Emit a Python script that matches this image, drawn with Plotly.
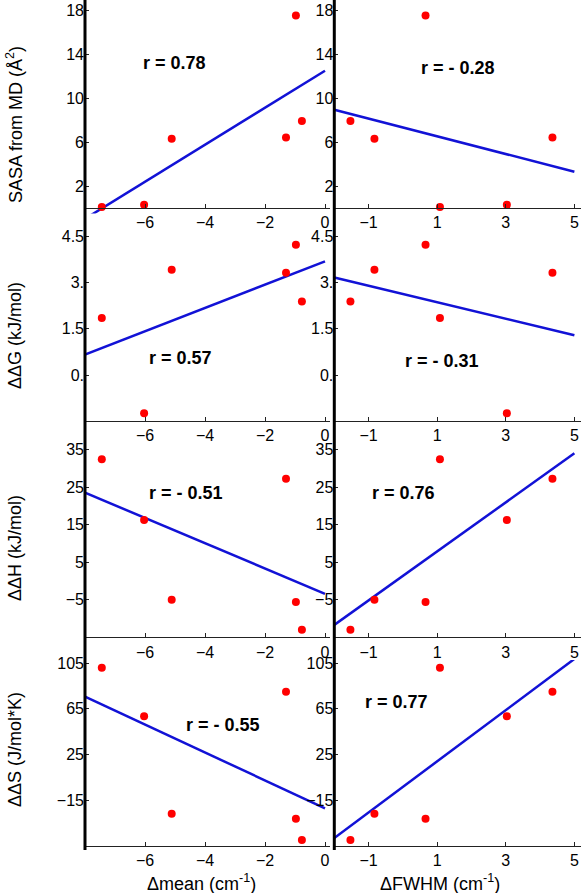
import numpy as np
import plotly.graph_objects as go

# ---------------- data ----------------
mean_shift = [-7.44, -6.03, -5.11, -1.30, -0.97, -0.77]   # Δmean (cm-1)
fwhm_shift = [1.08, 3.03, -0.83, 4.36, 0.66, -1.53]       # ΔFWHM (cm-1)
sasa = [0.1, 0.3, 6.3, 6.4, 17.5, 7.9]
ddG = [1.85, -1.24, 3.42, 3.32, 4.23, 2.39]
ddH = [32.5, 16.3, -5.0, 27.3, -5.6, -13.0]
ddS = [101.0, 58.5, -27.0, 80.0, -31.5, -50.0]

r_left = ["r = 0.78", "r = 0.57", "r = - 0.51", "r = - 0.55"]
r_right = ["r = - 0.28", "r = - 0.31", "r = 0.76", "r = 0.77"]
y_titles = ["SASA from MD (Å<sup>2</sup>)", "ΔΔG (kJ/mol)", "ΔΔH (kJ/mol)", "ΔΔS (J/mol*K)"]
x_titles = ["Δmean (cm<sup>-1</sup>)", "ΔFWHM (cm<sup>-1</sup>)"]
y_tickvals = [[2, 6, 10, 14, 18], [0, 1.5, 3, 4.5], [-5, 5, 15, 25, 35], [-15, 25, 65, 105]]
y_ticktext = [["2", "6", "10", "14", "18"], ["0.", "1.5", "3.", "4.5"],
              ["−5", "5", "15", "25", "35"], ["−15", "25", "65", "105"]]
x_tickvals = [[-6, -4, -2, 0], [-1, 1, 3, 5]]
x_ticktext = [["−6", "−4", "−2", "0"], ["−1", "1", "3", "5"]]
fit_span = [[-8, 0], [-2, 5]]

ys = [sasa, ddG, ddH, ddS]
xs = [mean_shift, fwhm_shift]

# ---------------- geometry (pixels) ----------------
W, H = 581, 893
col_px = [(85, 330), (334.3, 581)]
col_origin = [-8, -2]
col_scale = [30.0, 34.3]
row_band = [(0, 213.5), (216, 441), (441, 660), (660, 850)]
row_origin_px = [208, 421.2, 637.3, 845.6]
row_origin_val = [0, -1.5, -15, -55]
row_scale = [11.0, 30.8, 3.75, 1.14]
r_pos_left = [(174, 63), (180.5, 358), (186, 493), (223, 725)]
r_pos_right = [(458, 68), (441.7, 361), (403, 493), (396.7, 702)]
ytitle_pos = [(15, 125), (15, 336), (15, 548), (15, 750)]
xtitle_pos = [(201, 882), (440, 882)]

FONT = "Liberation Sans, Arial, sans-serif"
RED = "#ff0000"
BLUE = "#1212d6"


def px(xp):
    return xp / W


def py(yp):
    return 1 - yp / H


fig = go.Figure()
layout = {}
annotations = []
shapes = []

idx = 0
for r in range(4):
    for c in range(2):
        idx += 1
        sfx = "" if idx == 1 else str(idx)
        xa, ya = "x" + sfx, "y" + sfx
        xvals = np.array(xs[c], dtype=float)
        yvals = np.array(ys[r], dtype=float)
        slope, icpt = np.polyfit(xvals, yvals, 1)
        lx = np.array(fit_span[c], dtype=float)
        fig.add_trace(go.Scatter(x=lx, y=slope * lx + icpt, mode="lines",
                                 line=dict(color=BLUE, width=2.5),
                                 xaxis=xa, yaxis=ya, showlegend=False, hoverinfo="skip"))
        fig.add_trace(go.Scatter(x=xvals, y=yvals, mode="markers",
                                 marker=dict(color=RED, size=8, line=dict(width=0)),
                                 xaxis=xa, yaxis=ya, showlegend=False))

        x0p, x1p = col_px[c]
        xr = [col_origin[c], col_origin[c] + (x1p - x0p) / col_scale[c]]
        top, bot = row_band[r]
        yr = [row_origin_val[r] - (bot - row_origin_px[r]) / row_scale[r],
              row_origin_val[r] + (row_origin_px[r] - top) / row_scale[r]]

        layout["xaxis" + sfx] = dict(
            domain=[px(x0p), px(x1p)], range=xr, anchor="free",
            position=py(row_origin_px[r]),
            showline=True, linecolor="#222222", linewidth=1,
            ticks="inside", ticklen=4, tickcolor="#222222", tickwidth=1,
            tickvals=x_tickvals[c], ticktext=x_ticktext[c],
            tickfont=dict(family=FONT, size=16, color="black"),
            showgrid=False, zeroline=False, automargin=False, fixedrange=True)
        layout["yaxis" + sfx] = dict(
            domain=[py(bot), py(top)], range=yr, anchor=xa,
            showline=False, ticks="inside", ticklen=4, tickcolor="#222222", tickwidth=1,
            tickvals=y_tickvals[r], ticktext=y_ticktext[r],
            tickfont=dict(family=FONT, size=16, color="black"),
            showgrid=False, zeroline=False, automargin=False, fixedrange=True)

        rp = r_pos_left[r] if c == 0 else r_pos_right[r]
        rt = r_left[r] if c == 0 else r_right[r]
        annotations.append(dict(text="<b>" + rt + "</b>", x=px(rp[0]), y=py(rp[1]),
                                xref="paper", yref="paper", showarrow=False,
                                xanchor="center", yanchor="middle",
                                font=dict(family=FONT, size=18, color="black")))

# thick y-axis lines running through each column
for c in range(2):
    shapes.append(dict(type="line", xref="paper", yref="paper",
                       x0=px(col_px[c][0]), x1=px(col_px[c][0]),
                       y0=py(0), y1=py(850),
                       line=dict(color="black", width=3)))

for r in range(4):
    annotations.append(dict(text=y_titles[r], x=px(ytitle_pos[r][0]), y=py(ytitle_pos[r][1]),
                            xref="paper", yref="paper", showarrow=False, textangle=-90,
                            xanchor="center", yanchor="middle",
                            font=dict(family=FONT, size=18, color="black")))
for c in range(2):
    annotations.append(dict(text=x_titles[c], x=px(xtitle_pos[c][0]), y=py(xtitle_pos[c][1]),
                            xref="paper", yref="paper", showarrow=False,
                            xanchor="center", yanchor="middle",
                            font=dict(family=FONT, size=18, color="black")))

fig.update_layout(width=W, height=H, margin=dict(l=0, r=0, t=0, b=0),
                  paper_bgcolor="white", plot_bgcolor="rgba(0,0,0,0)",
                  annotations=annotations, shapes=shapes, **layout)

fig.write_html("out.html", config={"displayModeBar": False},
               post_script="document.body.style.margin='0';")
